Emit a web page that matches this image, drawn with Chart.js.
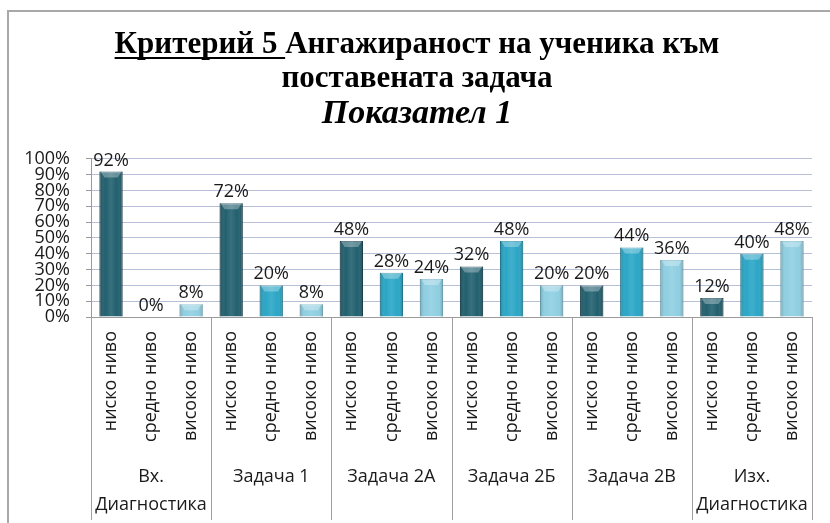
<!DOCTYPE html>
<html>
<head>
<meta charset="utf-8">
<script src="https://cdn.jsdelivr.net/npm/chart.js@4.4.0/dist/chart.umd.min.js"></script>
<style>
  html, body { margin: 0; padding: 0; background: #ffffff; }
  #wrap { width: 830px; height: 523px; position: relative; }
</style>
</head>
<body>
<div id="wrap"><canvas id="c" width="830" height="523"></canvas></div>
<script>
// ---- data ----
const titleLines = ['Критерий 5 Ангажираност на ученика към', 'поставената задача'];
const titleUnderlined = 'Критерий 5 ';
const subtitleText = 'Показател 1';
const groups = [['Вх.', 'Диагностика'], 'Задача 1', 'Задача 2А', 'Задача 2Б', 'Задача 2В', ['Изх.', 'Диагностика']];
const levels = ['ниско ниво', 'средно ниво', 'високо ниво'];
const values = [92, 0, 8, 72, 20, 8, 48, 28, 24, 32, 48, 20, 20, 44, 36, 12, 40, 48];
const yTicks = [0, 10, 20, 30, 40, 50, 60, 70, 80, 90, 100];

const levelColors = ['#22606f', '#2ba6c6', '#8fcfe2'];
const levelBorders = ['#174653', '#1f8aa8', '#74b8cc'];

const categoryLabels = [];
groups.forEach(() => levels.forEach(l => categoryLabels.push(l)));

const sansFont = "'Open Sans', 'DejaVu Sans', sans-serif";
const serifFont = "'Liberation Serif', 'DejaVu Serif', serif";

const framePlugin = {
  id: 'frame',
  beforeDraw(chart) {
    const ctx = chart.ctx;
    ctx.save();
    ctx.strokeStyle = '#a8a8a8';
    ctx.lineWidth = 2;
    ctx.beginPath();
    ctx.moveTo(8, chart.height);
    ctx.lineTo(8, 11);
    ctx.lineTo(chart.width, 11);
    ctx.stroke();
    ctx.restore();
  }
};

const separatorPlugin = {
  id: 'separators',
  afterDraw(chart) {
    const xs = chart.scales.x;
    const ctx = chart.ctx;
    const n = groups.length;
    ctx.save();
    ctx.strokeStyle = '#a0a0a0';
    ctx.lineWidth = 1;
    for (let i = 0; i <= n; i++) {
      const x = Math.round(xs.left + xs.width * i / n) + 0.5;
      ctx.beginPath();
      ctx.moveTo(x, chart.chartArea.bottom);
      ctx.lineTo(x, chart.height - 3);
      ctx.stroke();
    }
    ctx.restore();
  }
};

// bevel shading on each bar (positions taken from the bar elements)
const bevelPlugin = {
  id: 'bevel',
  afterDatasetsDraw(chart) {
    const ctx = chart.ctx;
    const meta = chart.getDatasetMeta(0);
    ctx.save();
    meta.data.forEach((bar) => {
      const h = bar.base - bar.y;
      if (h < 1) return;
      const l = bar.x - bar.width / 2, r = bar.x + bar.width / 2;
      const g = ctx.createLinearGradient(l, 0, r, 0);
      g.addColorStop(0, 'rgba(0,0,0,0.22)');
      g.addColorStop(0.25, 'rgba(255,255,255,0.0)');
      g.addColorStop(0.5, 'rgba(255,255,255,0.10)');
      g.addColorStop(0.75, 'rgba(255,255,255,0.0)');
      g.addColorStop(1, 'rgba(0,0,0,0.22)');
      ctx.fillStyle = g;
      ctx.fillRect(l, bar.y, r - l, h);
      const cap = Math.min(6, h);
      ctx.fillStyle = 'rgba(255,255,255,0.30)';
      ctx.beginPath();
      ctx.moveTo(l + 1, bar.y);
      ctx.lineTo(r - 1, bar.y);
      ctx.lineTo(r - 5, bar.y + cap);
      ctx.lineTo(l + 5, bar.y + cap);
      ctx.closePath();
      ctx.fill();
    });
    ctx.restore();
  }
};

const valueLabelPlugin = {
  id: 'valueLabels',
  afterDatasetsDraw(chart) {
    const ctx = chart.ctx;
    const meta = chart.getDatasetMeta(0);
    ctx.save();
    ctx.font = "18px " + sansFont;
    ctx.fillStyle = '#1a1a1a';
    ctx.textAlign = 'center';
    ctx.textBaseline = 'alphabetic';
    meta.data.forEach((bar, i) => {
      const v = chart.data.datasets[0].data[i];
      ctx.fillText(v + '%', bar.x, bar.y - 6);
    });
    ctx.restore();
  }
};

const underlinePlugin = {
  id: 'titleUnderline',
  afterDraw(chart) {
    const tb = chart.titleBlock;
    if (!tb) return;
    const opts = chart.options.plugins.title;
    const ctx = chart.ctx;
    const size = opts.font.size;
    const lh = size * opts.font.lineHeight;
    ctx.save();
    ctx.font = 'bold ' + size + 'px ' + serifFont;
    const full = ctx.measureText(titleLines[0]).width;
    const part = ctx.measureText(titleUnderlined).width;
    const cx = (tb.left + tb.right) / 2;
    const x0 = cx - full / 2;
    const y = tb.top + opts.padding.top + lh / 2 + size * 0.42;
    ctx.strokeStyle = '#000000';
    ctx.lineWidth = 2;
    ctx.beginPath();
    ctx.moveTo(x0, y);
    ctx.lineTo(x0 + part, y);
    ctx.stroke();
    ctx.restore();
  }
};

new Chart(document.getElementById('c'), {
  type: 'bar',
  data: {
    labels: categoryLabels,
    datasets: [{
      data: values,
      backgroundColor: values.map((v, i) => levelColors[i % 3]),
      borderColor: values.map((v, i) => levelBorders[i % 3]),
      borderWidth: 1,
      barPercentage: 0.58,
      categoryPercentage: 1.0
    }]
  },
  options: {
    responsive: false,
    animation: false,
    layout: { padding: { left: 22, right: 18, top: 0, bottom: 0 } },
    plugins: {
      legend: { display: false },
      tooltip: { enabled: false },
      title: {
        display: true,
        text: titleLines,
        color: '#000000',
        font: { family: serifFont, size: 31, weight: 'bold', lineHeight: 1.1 },
        padding: { top: 28, bottom: 0 }
      },
      subtitle: {
        display: true,
        text: subtitleText,
        color: '#000000',
        font: { family: serifFont, size: 34, weight: 'bold', style: 'italic', lineHeight: 1.05 },
        padding: { top: 0, bottom: 27 }
      }
    },
    scales: {
      x: {
        type: 'category',
        position: 'bottom',
        offset: true,
        afterFit(scale) { scale.height = 140; },
        grid: { display: false, drawTicks: false },
        border: { display: true, color: '#9a9a9a', width: 1 },
        ticks: {
          autoSkip: false,
          minRotation: 90,
          maxRotation: 90,
          padding: 14,
          color: '#1a1a1a',
          font: { family: sansFont, size: 18 }
        }
      },
      groups: {
        type: 'category',
        position: 'bottom',
        labels: groups,
        offset: true,
        afterFit(scale) { scale.height = 66; },
        grid: { display: false, drawTicks: false },
        border: { display: false },
        ticks: {
          autoSkip: false,
          maxRotation: 0,
          padding: 6,
          color: '#1a1a1a',
          font: { family: sansFont, size: 18, lineHeight: 1.55 }
        }
      },
      y: {
        min: 0,
        max: 100,
        afterFit(scale) { scale.width = 69; },
        afterBuildTicks(scale) { scale.ticks = yTicks.map(v => ({ value: v })); },
        grid: { color: '#b6c1d9', lineWidth: 1, drawTicks: true, tickLength: 5, tickColor: '#9a9a9a' },
        border: { display: true, color: '#9a9a9a', width: 1 },
        ticks: {
          autoSkip: false,
          padding: 16,
          color: '#1a1a1a',
          font: { family: sansFont, size: 18, lineHeight: 1.0 },
          callback: v => v + '%'
        }
      }
    }
  },
  plugins: [framePlugin, separatorPlugin, bevelPlugin, valueLabelPlugin, underlinePlugin]
});
</script>
</body>
</html>
